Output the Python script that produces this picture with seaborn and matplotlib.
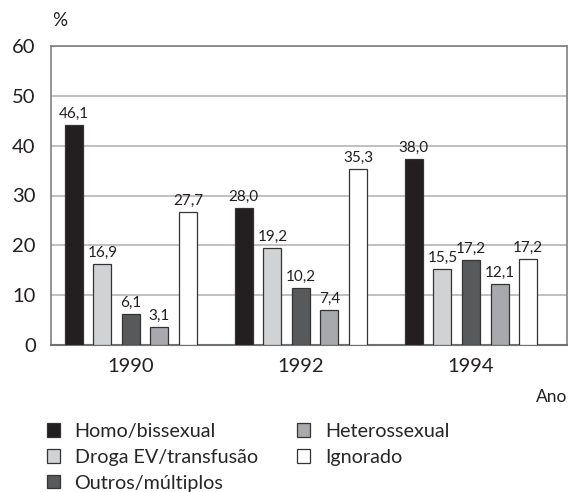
import matplotlib
matplotlib.use("Agg")
import matplotlib.pyplot as plt
import seaborn as sns
import pandas as pd

years = ["1990", "1992", "1994"]
categories = ["Homo/bissexual", "Droga EV/transfusão", "Outros/múltiplos",
              "Heterossexual", "Ignorado"]
# bar heights as drawn in the picture
homo = [44.2, 27.5, 37.3]
droga = [16.2, 19.4, 15.2]
outros = [6.2, 11.4, 17.0]
hetero = [3.6, 7.0, 12.3]
ignorado = [26.6, 35.3, 17.3]
# printed labels
homo_lbl = ["46,1", "28,0", "38,0"]
droga_lbl = ["16,9", "19,2", "15,5"]
outros_lbl = ["6,1", "10,2", "17,2"]
hetero_lbl = ["3,1", "7,4", "12,1"]
ignorado_lbl = ["27,7", "35,3", "17,2"]
yticks = [0, 10, 20, 30, 40, 50, 60]

values = [homo, droga, outros, hetero, ignorado]
labels = [homo_lbl, droga_lbl, outros_lbl, hetero_lbl, ignorado_lbl]
colors = ["#231f20", "#d1d2d4", "#58595b", "#a7a9ac", "#ffffff"]

rows = []
for cat, vals in zip(categories, values):
    for y, v in zip(years, vals):
        rows.append({"Ano": y, "cat": cat, "val": v})
df = pd.DataFrame(rows)

sns.set_style("white")
plt.rcParams["font.family"] = ["Lato", "DejaVu Sans"]

fig = plt.figure(figsize=(5.68, 4.92), dpi=100)
ax = fig.add_axes([51 / 568, 1 - 345 / 492, 516 / 568, 299 / 492])

sns.barplot(data=df, x="Ano", y="val", hue="cat", order=years,
            hue_order=categories, palette=dict(zip(categories, colors)),
            width=0.84, gap=0.37, edgecolor="#333333", linewidth=0.9,
            saturation=1, ax=ax, zorder=3)

for cont, lbl in zip(ax.containers, labels):
    ax.bar_label(cont, labels=lbl, padding=3, fontsize=11, color="#231f20")

ax.set_ylim(0, 60)
ax.set_xlim(-0.47, 2.565)
ax.set_yticks(yticks)
ax.yaxis.grid(True, color="#b5b5b5", linewidth=1.2, zorder=0)
ax.set_axisbelow(True)
ax.tick_params(axis="both", length=0, labelsize=14.5, colors="#231f20")
ax.tick_params(axis="x", pad=9)
ax.tick_params(axis="y", pad=11)
for s in ax.spines.values():
    s.set_color("#808080")
    s.set_linewidth(1.2)
ax.spines["bottom"].set_color("#707070")
ax.spines["bottom"].set_linewidth(1.5)
ax.set_xlabel("")
ax.set_ylabel("")

fig.text(60 / 568, 1 - 20 / 492, "%", fontsize=13.5, ha="center", va="center",
         color="#231f20")
fig.text(567 / 568, 1 - 397 / 492, "Ano", fontsize=12.5, ha="right", va="center",
         color="#231f20")

leg = ax.get_legend()
handles, lbls = ax.get_legend_handles_labels()
if leg is not None:
    leg.remove()
fig.legend(handles, lbls, loc="upper left",
           bbox_to_anchor=(47 / 568, 1 - 423 / 492), ncol=2, frameon=False,
           fontsize=14.2, handlelength=0.65, handleheight=0.65,
           handletextpad=0.75, labelspacing=0.45, columnspacing=2.0,
           borderaxespad=0, borderpad=0)

fig.savefig("out.png", dpi=100)
